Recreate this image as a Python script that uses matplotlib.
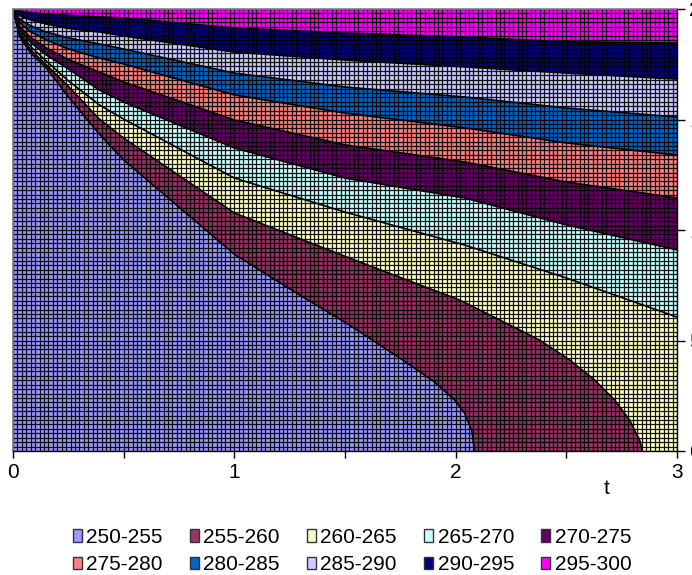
import numpy as np
import matplotlib
matplotlib.use("Agg")
import matplotlib.pyplot as plt
from matplotlib.collections import LineCollection
from matplotlib.patches import Patch

plt.rcParams["font.family"] = ["Liberation Sans", "DejaVu Sans"]

# temperature bands
band_labels = ["250-255", "255-260", "260-265", "265-270", "270-275",
               "275-280", "280-285", "285-290", "290-295", "295-300"]
band_colors = ["#9999FF", "#993366", "#FFFFCC", "#CCFFFF", "#660066",
               "#FF8080", "#0066CC", "#CCCCFF", "#000080", "#FF00FF"]

# isotherm positions (t, depth) for each band boundary
iso_levels = [255, 260, 265, 270, 275, 280, 285, 290, 295]
t_full = [0, 0.03, 0.08, 0.15, 0.25, 0.39, 0.5, 1.0, 1.5, 2.04, 2.5, 3.0]
iso_t = {
    255: [0, 0.03, 0.08, 0.15, 0.25, 0.39, 0.5, 1.0, 1.295, 1.52, 1.747,
          1.905, 1.995, 2.04, 2.072, 2.086],
    260: [0, 0.03, 0.08, 0.15, 0.25, 0.39, 0.5, 1.0, 1.52, 2.018, 2.199,
          2.379, 2.515, 2.628, 2.718, 2.786, 2.831, 2.844],
    265: t_full, 270: t_full, 275: t_full, 280: t_full,
    285: t_full, 290: t_full, 295: t_full,
}
iso_y = {
    255: [20, 18.75, 18.00, 17.35, 16.02, 14.34, 13.17, 8.90, 7.06, 5.70,
          4.21, 3.12, 2.31, 1.72, 0.95, 0],
    260: [20, 18.85, 18.15, 17.48, 16.50, 15.02, 14.16, 10.77, 8.73, 6.83,
          5.93, 5.02, 4.12, 3.21, 2.31, 1.40, 0.50, 0],
    265: [20, 18.95, 18.30, 17.65, 16.75, 15.66, 15.02, 12.35, 10.81, 9.32, 7.83, 6.06],
    270: [20, 19.06, 18.48, 17.92, 17.29, 16.33, 15.79, 13.71, 12.35, 11.45, 10.23, 9.10],
    275: [20, 19.21, 18.71, 18.24, 17.71, 17.15, 16.70, 14.98, 13.85, 13.08, 12.17, 11.45],
    280: [20, 19.37, 18.97, 18.60, 18.19, 17.78, 17.51, 16.11, 15.29, 14.62, 13.94, 13.39],
    285: [20, 19.53, 19.24, 18.96, 18.69, 18.42, 18.19, 17.10, 16.47, 16.02, 15.52, 15.11],
    290: [20, 19.70, 19.50, 19.32, 19.12, 18.96, 18.78, 18.05, 17.69, 17.38, 17.10, 16.83],
    295: [20, 19.90, 19.83, 19.77, 19.71, 19.64, 19.59, 19.14, 18.91, 18.73, 18.51, 18.46],
}

t_ticks = [0, 0.5, 1, 1.5, 2, 2.5, 3]
depth_ticks = [0, 5, 10, 15, 20]
t_max, depth_max = 3.0, 20.0
mesh_dt, mesh_dy = 0.02, 0.2

fig = plt.figure(figsize=(6.92, 5.75), dpi=100)
ax = fig.add_axes([13 / 692, 124 / 575, 664 / 692, 442 / 575])
ax.set_xlim(0, t_max)
ax.set_ylim(0, depth_max)

# hottest band as background, then paint each cooler region on top
ax.fill([0, t_max, t_max, 0], [0, 0, depth_max, depth_max],
        color=band_colors[-1], lw=0, zorder=1)
for k in range(len(iso_levels) - 1, -1, -1):
    lev = iso_levels[k]
    tt = list(iso_t[lev])
    yy = list(iso_y[lev])
    if yy[-1] > 0:
        tt += [t_max]
        yy += [0]
    tt += [0]
    yy += [0]
    ax.fill(tt, yy, color=band_colors[k], lw=0, zorder=1 + (len(iso_levels) - k))

# data mesh
segs = [[(t, 0), (t, depth_max)] for t in np.arange(0, t_max + 1e-9, mesh_dt)]
segs += [[(0, y), (t_max, y)] for y in np.arange(0, depth_max + 1e-9, mesh_dy)]
mesh = LineCollection(segs, colors="black", linewidths=0.9, antialiased=True,
                      alpha=0.9, zorder=20)
ax.add_collection(mesh)

# isotherm outlines
for lev in iso_levels:
    ax.plot(iso_t[lev], iso_y[lev], color="black", lw=1.2, zorder=25)

# axes styling
ax.yaxis.tick_right()
ax.set_xticks(t_ticks)
ax.set_xticklabels([str(int(v)) if float(v).is_integer() else "" for v in t_ticks])
ax.set_yticks(depth_ticks)
ax.set_yticklabels([str(v) for v in depth_ticks])
ax.tick_params(axis="x", direction="out", length=5, width=1, color="black",
               labelsize=15, pad=4, labelcolor="black")
ax.tick_params(axis="y", direction="out", length=6, width=1, color="black",
               labelsize=15, pad=3, labelcolor="black")
for side in ["left", "top"]:
    ax.spines[side].set_color("#808080")
    ax.spines[side].set_linewidth(1.2)
for side in ["bottom", "right"]:
    ax.spines[side].set_color("black")
    ax.spines[side].set_linewidth(1.0)
for s in ax.spines.values():
    s.set_zorder(30)

fig.text(607 / 692, 1 - 488 / 575, "t", fontsize=15, ha="center", va="center")

# legend laid out row by row
handles = [Patch(facecolor=c, edgecolor="#333333", lw=1.0) for c in band_colors]
order = [0, 5, 1, 6, 2, 7, 3, 8, 4, 9]
fig.legend([handles[i] for i in order], [band_labels[i] for i in order],
           ncol=5, loc="center", bbox_to_anchor=(352 / 692, 1 - 551 / 575),
           frameon=False, fontsize=15, handlelength=0.45, handleheight=0.55,
           handletextpad=0.2, columnspacing=1.3, labelspacing=0.4,
           borderpad=0.0)

fig.savefig("out.png", dpi=100)
